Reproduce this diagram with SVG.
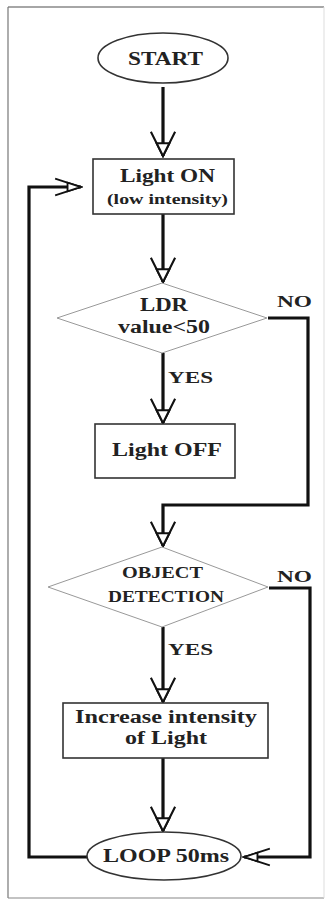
<svg xmlns="http://www.w3.org/2000/svg" width="329" height="900" viewBox="0 0 329 900">
<defs>
<style>
.t{font-family:"Liberation Serif","Times New Roman",serif;font-weight:bold;fill:#222;text-anchor:middle;}
.box{fill:#fff;stroke:#333;stroke-width:1.6;}
.ell{fill:#fff;stroke:#333;stroke-width:1.6;}
.dia{fill:#fff;stroke:#999;stroke-width:1;}
.c{fill:none;stroke:#111;stroke-width:3.2;stroke-linejoin:miter;}
</style>
<marker id="ah" markerUnits="userSpaceOnUse" markerWidth="30" markerHeight="30" viewBox="-24 -13 26 26" refX="0" refY="0" orient="auto">
<path d="M-21,-10.5 L0,0 L-21,10.5" fill="none" stroke="#111" stroke-width="1.8"/>
<path d="M0,0 L-11,-5.5 L-11,5.5 Z" fill="#fff" stroke="#111" stroke-width="1.8"/>
</marker>
<marker id="ahh" markerUnits="userSpaceOnUse" markerWidth="30" markerHeight="30" viewBox="-27 -13 29 26" refX="0" refY="0" orient="auto">
<path d="M-25,-8 L0,0 L-25,8" fill="none" stroke="#111" stroke-width="1.8"/>
<path d="M0,0 L-13,-4.2 L-13,4.2 Z" fill="#fff" stroke="#111" stroke-width="1.8"/>
</marker>
</defs>
<rect width="329" height="900" fill="#fff"/>
<g id="frame">
<line x1="8" y1="7" x2="324" y2="7" stroke="#888" stroke-width="1.5"/>
<line x1="8" y1="7" x2="8" y2="898" stroke="#777" stroke-width="1.2"/>
<line x1="8" y1="898" x2="324" y2="898" stroke="#888" stroke-width="1.2"/>
<line x1="324" y1="7" x2="324" y2="898" stroke="#ddd" stroke-width="1"/>
</g>
<g id="connectors">
<path class="c" d="M163,87 L163,156" marker-end="url(#ah)"/>
<path class="c" d="M163,214 L163,282" marker-end="url(#ah)"/>
<path class="c" d="M163,353 L163,423" marker-end="url(#ah)"/>
<path class="c" d="M268,318 L308,318 L308,505 L163,505 L163,546" marker-end="url(#ah)"/>
<path class="c" d="M163,627 L163,702" marker-end="url(#ah)"/>
<path class="c" d="M269,588 L310,588 L310,857 L244,857" marker-end="url(#ahh)"/>
<path class="c" d="M163,758 L163,831" marker-end="url(#ah)"/>
<path class="c" d="M87,857 L29,857 L29,187 L81,187" marker-end="url(#ahh)"/>
<text class="t" x="294.5" y="307" font-size="17" textLength="35" lengthAdjust="spacingAndGlyphs">NO</text>
<text class="t" x="190.5" y="383" font-size="17" textLength="45" lengthAdjust="spacingAndGlyphs">YES</text>
<text class="t" x="294.5" y="582" font-size="17" textLength="35" lengthAdjust="spacingAndGlyphs">NO</text>
<text class="t" x="190.5" y="655" font-size="17" textLength="45" lengthAdjust="spacingAndGlyphs">YES</text>
</g>
<g id="start">
<ellipse class="ell" cx="163" cy="58" rx="65" ry="25"/>
<text class="t" x="165.5" y="65" font-size="19" textLength="75" lengthAdjust="spacingAndGlyphs">START</text>
</g>
<g id="light-on">
<rect class="box" x="93" y="159" width="141" height="55"/>
<text class="t" x="167.5" y="182" font-size="19" textLength="95" lengthAdjust="spacingAndGlyphs">Light ON</text>
<text class="t" x="167.5" y="204" font-size="15" textLength="121" lengthAdjust="spacingAndGlyphs">(low intensity)</text>
</g>
<g id="ldr">
<polygon class="dia" points="162,283 267,318 162,353 57,318"/>
<text class="t" x="164" y="311" font-size="19" textLength="48" lengthAdjust="spacingAndGlyphs">LDR</text>
<text class="t" x="164" y="333" font-size="18" textLength="92" lengthAdjust="spacingAndGlyphs">value&lt;50</text>
</g>
<g id="light-off">
<rect class="box" x="95" y="424" width="140" height="54"/>
<text class="t" x="167" y="456" font-size="19" textLength="110" lengthAdjust="spacingAndGlyphs">Light OFF</text>
</g>
<g id="object">
<polygon class="dia" points="162,547 268,587 162,627 48,587"/>
<text class="t" x="162.5" y="578" font-size="17" textLength="81" lengthAdjust="spacingAndGlyphs">OBJECT</text>
<text class="t" x="166" y="602" font-size="17" textLength="116" lengthAdjust="spacingAndGlyphs">DETECTION</text>
</g>
<g id="increase">
<rect class="box" x="63" y="703" width="205" height="55"/>
<text class="t" x="166" y="723" font-size="18" textLength="182" lengthAdjust="spacingAndGlyphs">Increase intensity</text>
<text class="t" x="166" y="744" font-size="18" textLength="82" lengthAdjust="spacingAndGlyphs">of Light</text>
</g>
<g id="loop">
<ellipse class="ell" cx="164" cy="856" rx="77" ry="24"/>
<text class="t" x="166" y="862" font-size="19" textLength="126" lengthAdjust="spacingAndGlyphs">LOOP 50ms</text>
</g>
</svg>
